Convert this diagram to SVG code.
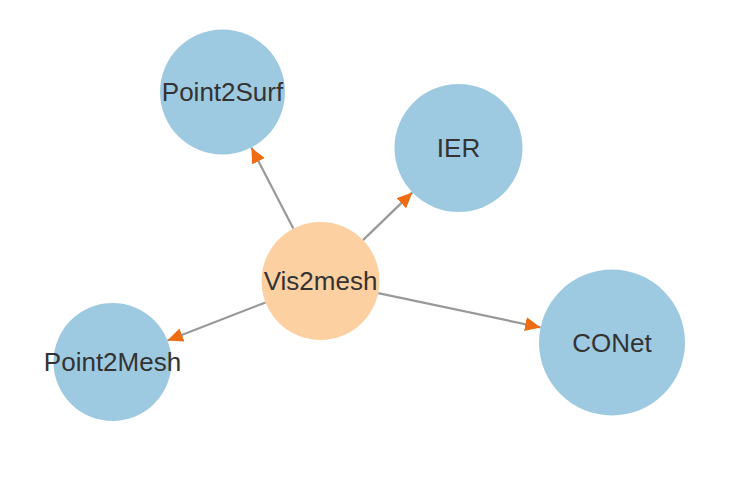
<svg xmlns="http://www.w3.org/2000/svg" width="742" height="482" viewBox="0 0 742 482">
<style>
.node-blue{fill:#9ecae1}
.node-orange{fill:#fdd0a2}
.label{font-family:"Liberation Sans",Arial,sans-serif;font-size:26px;fill:#333333;text-anchor:middle}
.edge{stroke:#999999;stroke-width:2.2;fill:none;marker-end:url(#arrow)}
</style>
<defs>
<marker id="arrow" markerUnits="userSpaceOnUse" markerWidth="18" markerHeight="16" viewBox="0 -8 18 16" refX="15.5" refY="0" orient="auto">
<path d="M0,-7 L15.5,0 L0,7 Z" fill="#ee6c12"/>
</marker>
</defs>
<rect width="742" height="482" fill="#ffffff"/>
<g id="connectors">
<line class="edge" x1="293.3" y1="228.6" x2="251.3" y2="147.5"/>
<line class="edge" x1="363.0" y1="240.1" x2="412.4" y2="192.4"/>
<line class="edge" x1="265.5" y1="302.4" x2="167.5" y2="340.6"/>
<line class="edge" x1="378.2" y1="293.2" x2="540.6" y2="327.4"/>
</g>
<g id="node-point2surf">
<circle class="node-blue" cx="222.5" cy="92" r="62.5"/>
<text class="label" x="222.5" y="101">Point2Surf</text>
</g>
<g id="node-ier">
<circle class="node-blue" cx="458.5" cy="148" r="64"/>
<text class="label" x="458.5" y="157">IER</text>
</g>
<g id="node-vis2mesh">
<circle class="node-orange" cx="320.5" cy="281" r="59"/>
<text class="label" x="320.5" y="290">Vis2mesh</text>
</g>
<g id="node-point2mesh">
<circle class="node-blue" cx="112.5" cy="362" r="59"/>
<text class="label" x="112.5" y="371">Point2Mesh</text>
</g>
<g id="node-conet">
<circle class="node-blue" cx="612" cy="342.5" r="73"/>
<text class="label" x="612" y="351.5">CONet</text>
</g>
</svg>
